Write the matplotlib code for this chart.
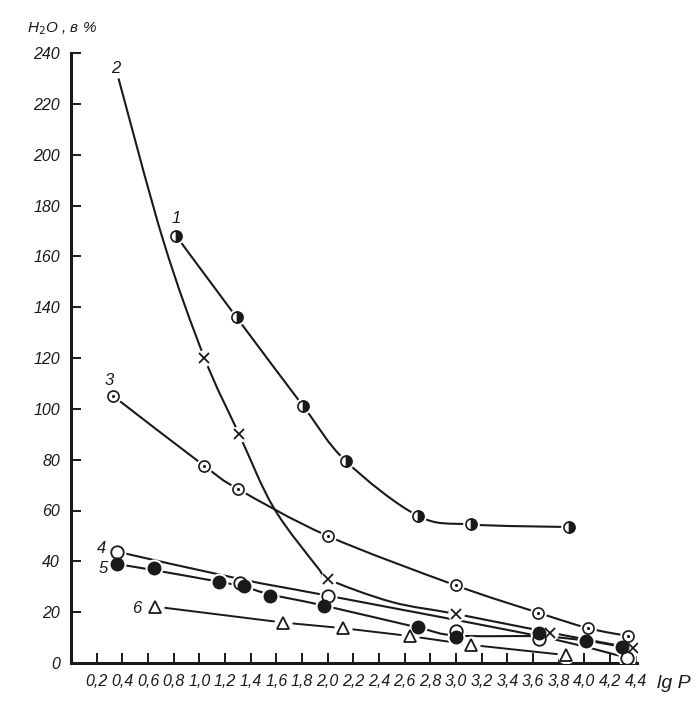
import matplotlib
matplotlib.use("Agg")
import matplotlib.pyplot as plt
from matplotlib.path import Path
from matplotlib.patches import PathPatch
import numpy as np

plt.rcParams['font.family'] = ['Liberation Sans', 'DejaVu Sans']

# ---- data (lg P, H2O %) ----
# curve 1 : half filled circles
x1 = [0.82, 1.29, 1.81, 2.14, 2.70, 3.12, 3.88]
y1 = [168, 136, 101, 79.5, 58, 54.5, 53.5]
# curve 2 : crosses (line starts without a marker)
x2_line = [0.37, 0.72, 1.04, 1.31, 1.58, 1.93, 2.0, 2.5, 3.0, 3.73, 4.38]
y2_line = [230, 166, 120, 90, 61, 37, 33, 24, 19.3, 12, 5.8]
x2 = [1.04, 1.31, 2.0, 3.0, 3.73, 4.38]
y2 = [120, 90, 33, 19.3, 12, 5.8]
# curve 3 : circles with a dot
x3 = [0.33, 1.04, 1.30, 2.0, 3.0, 3.64, 4.03, 4.34]
y3 = [105, 77.5, 68.5, 50, 30.5, 19.8, 13.7, 10.6]
# curve 4 : open circles
x4_line = [0.36, 1.32, 2.0, 3.65, 4.33]
y4_line = [43.8, 33, 26.5, 10.5, 2.1]
x4 = [0.36, 1.32, 2.0, 3.0, 3.65, 4.33]
y4 = [43.8, 31.6, 26.5, 12.6, 9.3, 2.1]
# curve 5 : filled circles
x5_line = [0.36, 0.65, 1.15, 1.35, 1.55, 1.97, 2.70, 3.0, 3.65, 4.01, 4.29]
y5_line = [38.9, 36.5, 32, 30, 27, 22.6, 14, 10.8, 10.5, 8.8, 6.4]
x5 = [0.36, 0.65, 1.15, 1.35, 1.55, 1.97, 2.70, 3.0, 3.65, 4.01, 4.29]
y5 = [38.9, 37.5, 32, 30.3, 26.5, 22.6, 14, 10.4, 11.9, 8.8, 6.4]
# curve 6 : open triangles
x6 = [0.655, 1.655, 2.12, 2.64, 3.12, 3.86]
y6 = [22.2, 15.9, 13.7, 10.6, 7.1, 3.1]

curve_labels = ['1', '2', '3', '4', '5', '6']
label_x = [0.82, 0.35, 0.30, 0.24, 0.25, 0.51]
label_y = [175, 234, 111, 45, 37, 21.5]

xticks = [round(0.2 * i, 1) for i in range(1, 23)]
yticks = list(range(0, 241, 20))

INK = '#1a1a1a'


def smooth(ax, xs, ys, lw=1.5):
    # catmull-rom through the points, drawn as bezier path in data coords
    pts = np.column_stack([xs, ys]).astype(float)
    n = len(pts)
    verts = [pts[0]]
    codes = [Path.MOVETO]
    for i in range(n - 1):
        p0 = pts[i - 1] if i > 0 else pts[i]
        p1 = pts[i]
        p2 = pts[i + 1]
        p3 = pts[i + 2] if i + 2 < n else pts[i + 1]
        verts += [p1 + (p2 - p0) / 6.0, p2 - (p3 - p1) / 6.0, p2]
        codes += [Path.CURVE4] * 3
    ax.add_patch(PathPatch(Path(verts, codes), fill=False, edgecolor=INK, lw=lw, zorder=2))


def halo(ax, xs, ys, ms):
    ax.plot(xs, ys, 'o', ms=ms, color='white', mec='white', zorder=3, ls='none')


fig = plt.figure(figsize=(7.0, 7.02), dpi=100)
ax = fig.add_axes([71 / 700, 39 / 702, 566 / 700, 610 / 702])
ax.set_xlim(0, 4.41)
ax.set_ylim(0, 240)

# lines
smooth(ax, x1, y1)
smooth(ax, x2_line, y2_line)
smooth(ax, x3, y3)
smooth(ax, x4_line, y4_line)
smooth(ax, x5_line, y5_line)
ax.plot(x6, y6, color=INK, lw=1.4, zorder=2)

# markers (white halo gives the small gap round each point)
halo(ax, x1, y1, 11)
ax.plot(x1, y1, 'o', ms=8, mfc=INK, mfcalt='white', fillstyle='right', mec=INK, mew=1.2, zorder=4)

halo(ax, x2, y2, 11)
ax.plot(x2, y2, 'x', ms=7, color=INK, mew=1.3, zorder=4)

halo(ax, x3, y3, 11)
ax.plot(x3, y3, 'o', ms=8, mfc='white', mec=INK, mew=1.2, zorder=4)
ax.plot(x3, y3, '.', ms=2.5, color=INK, zorder=5)

halo(ax, x4, y4, 12)
ax.plot(x4, y4, 'o', ms=9, mfc='white', mec=INK, mew=1.3, zorder=4)

halo(ax, x5, y5, 12)
ax.plot(x5, y5, 'o', ms=9, mfc=INK, mec=INK, zorder=4)

halo(ax, x6, y6, 12)
ax.plot(x6, y6, '^', ms=9, mfc='white', mec=INK, mew=1.3, zorder=4)

for t, lx, ly in zip(curve_labels, label_x, label_y):
    ax.text(lx, ly, t, fontsize=12, style='italic', color=INK, ha='center', va='center')

# axes look
for s in ['top', 'right']:
    ax.spines[s].set_visible(False)
for s in ['left', 'bottom']:
    ax.spines[s].set_linewidth(2.2)
    ax.spines[s].set_color(INK)

ax.set_xticks(xticks)
ax.set_xticklabels([('%.1f' % v).replace('.', ',') for v in xticks])
ax.set_yticks(yticks)
ax.set_yticklabels([str(v) for v in yticks])
ax.tick_params(direction='in', length=7, width=1.4, color=INK, labelcolor=INK, labelsize=11.5)
ax.tick_params(axis='x', pad=8)
ax.tick_params(axis='y', pad=8)
for lab in ax.get_xticklabels() + ax.get_yticklabels():
    lab.set_style('italic')

fig.text(27 / 700, 1 - 32 / 702, 'H$_2$O , в %', fontsize=11, style='italic', color=INK)
fig.text(657 / 700, 1 - 688 / 702, 'lg P', fontsize=14, style='italic', color=INK)

plt.savefig('out.png', dpi=100, facecolor='white')
